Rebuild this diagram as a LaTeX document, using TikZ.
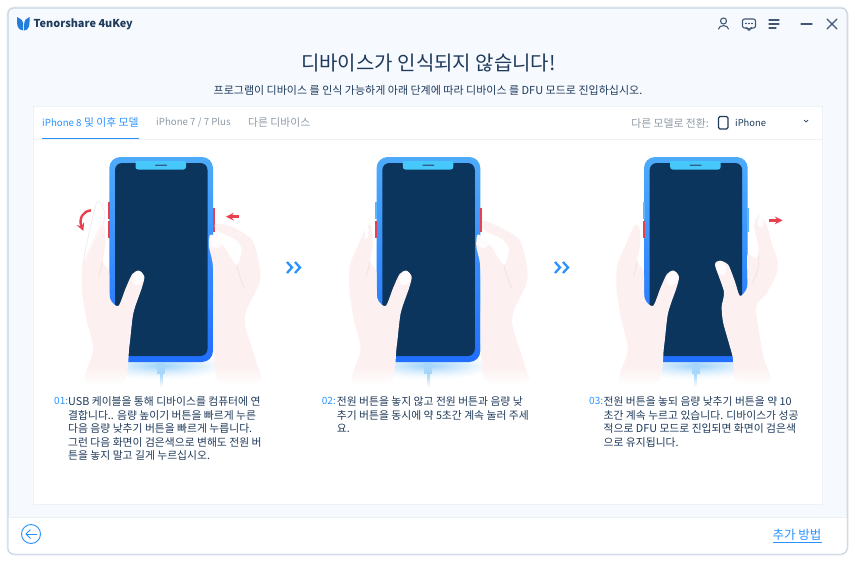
\documentclass[tikz,border=0pt]{standalone}
\usepackage{fontspec}
\setmainfont{Noto Sans CJK KR}
\usetikzlibrary{fadings}
\definecolor{winbg}{HTML}{F6FAFF}
\definecolor{winedge}{HTML}{C6D3DF}
\definecolor{inkdark}{HTML}{1F3A5A}
\definecolor{inkgrey}{HTML}{8E9AA6}
\definecolor{linkblue}{HTML}{2A93FF}
\definecolor{screendark}{HTML}{0B355C}
\definecolor{handpink}{HTML}{FDF0F0}
\definecolor{creasepink}{HTML}{F8E0E0}
\definecolor{pressred}{HTML}{E8404F}
\definecolor{sideblue}{HTML}{5DB6F8}
\newcommand{\latinsize}{\fontsize{9.7}{12}\selectfont}
\tikzset{
    titletext/.style={inner sep=0pt,text=inkdark,font=\fontsize{20}{24}\selectfont},
    subtext/.style={inner sep=0pt,text=inkdark,font=\fontsize{11}{13}\selectfont},
    tabtext/.style={inner sep=0pt,text=inkgrey,font=\fontsize{10.8}{13}\selectfont},
    stepno/.style={inner sep=0pt,anchor=base west,text=linkblue,font=\fontsize{10}{13.5}\selectfont},
    stepnote/.style={inner sep=0pt,anchor=base west,text=inkdark,align=left,font=\fontsize{10.8}{13.5}\selectfont},
    iconline/.style={draw=inkdark!85!white,line width=1.1pt,line cap=round},
    pressarrow/.style={draw=pressred,line width=2.4pt,->,>=stealth},
    hand/.style={fill=handpink},
    crease/.style={draw=creasepink,line width=0.8pt},
    nail/.style={fill=white,opacity=0.85},
    hopmark/.style={draw=linkblue,line width=2.3pt},
}
% one hand, written in the 3x crop units of the first phone
\newcommand{\lefthand}{
    \fill[hand] plot[smooth cycle,tension=0.45] coordinates {(75,695) (100,600) (80,510) (66,420) (68,345) (95,280) (120,225) (134,232) (136,285) (128,335) (147,365) (150,445) (175,468) (197,415) (217,372) (237,362) (253,380) (245,415) (220,490) (208,590) (190,695)};
    \fill[nail] (233,385) ellipse [x radius=16,y radius=22,rotate=-20];
    \draw[crease] (128,335) .. controls (124,350) and (122,365) .. (116,378);
}
\begin{document}
\begin{tikzpicture}[x=1pt,y=-1pt]
    \useasboundingbox (0,0) rectangle (855,562);
    \fill[white] (0,0) rectangle (855,562);
    % window
    \draw[winedge!45!white,line width=3pt,rounded corners=7pt] (8,8) rectangle (847,554);
    \draw[winedge,line width=1pt,fill=winbg,rounded corners=6pt] (8,8) rectangle (847,554);
    \fill[white] (8.5,517) [rounded corners=6pt] -- (8.5,553.5) -- (846.5,553.5) [sharp corners] -- (846.5,517) -- cycle;
    \draw[color=winedge!35!white,line width=1pt] (8.5,517) -- (846.5,517);
    \draw[fill=white,draw=winedge!30!white,line width=0.8pt] (33,106) rectangle (822,504);
    \draw[color=winedge!30!white,line width=0.8pt] (33,139.5) -- (822,139.5);
    % header
    \fill[linkblue!85!black] (17,17) .. controls (20,18) and (23,20) .. (23.2,24) -- (23.2,30.5) .. controls (19,30) and (17,27) .. (17,22) -- cycle;
    \fill[linkblue!85!black] (29.5,17) .. controls (26.5,18) and (24.4,20) .. (24.2,24) -- (24.2,30.5) .. controls (28,30) and (29.5,27) .. (29.5,22) -- cycle;
    \node[inner sep=0pt,anchor=west,text=inkdark,font=\fontsize{10.9}{14}\selectfont\bfseries] (appname) at (33.5,24) {Tenorshare 4uKey};
    \draw[iconline] (723.5,21) circle [radius=3];
    \draw[iconline] (718.5,29) .. controls (719,24.5) and (728,24.5) .. (728.5,29);
    \draw[iconline,rounded corners=2pt] (742.5,19) -- (755.5,19) -- (755.5,28) -- (750.5,28) -- (749,30) -- (747.5,28) -- (742.5,28) -- cycle;
    \foreach \dotx in {746,749,752}
        \fill[inkdark] (\dotx,23.5) circle [radius=0.8];
    \draw[iconline] (769,20) -- (779,20);
    \draw[iconline] (769,24) -- (779,24);
    \draw[iconline] (769,28) -- (776,28);
    \draw[iconline] (801,24) -- (812,24);
    \draw[iconline] (827,19) -- (837,29);
    \draw[iconline] (837,19) -- (827,29);
    \node[titletext] (headline) at (428.5,63.5) {디바이스가 인식되지 않습니다!};
    \node[subtext] (subline) at (428,90.5) {프로그램이 디바이스 를 인식 가능하게 아래 단계에 따라 디바이스 를 DFU 모드로 진입하십시오.};
    % tabs
    \node[tabtext,anchor=west,text=linkblue] (tabeight) at (42,122.5) {{\latinsize iPhone 8} 및 이후 모델};
    \node[tabtext,anchor=west] (tabseven) at (156,122.5) {\latinsize iPhone 7 / 7 Plus};
    \node[tabtext,anchor=west] (tabother) at (248,122) {다른 디바이스};
    \draw[linkblue,line width=1.3pt] (42,138.5) -- (139,138.5);
    \node[tabtext,anchor=east] (switchlabel) at (709,123) {다른 모델로 전환:};
    \draw[inkdark,line width=1.1pt,rounded corners=1.5pt] (718.5,116.5) rectangle (728,129);
    \node[tabtext,anchor=west,text=inkdark] (switchvalue) at (735,123) {\fontsize{9.4}{11}\selectfont iPhone};
    \draw[inkdark,line width=0.7pt] (804,120) -- (806,122) -- (808,120);
    % phones
    \foreach \shiftx in {0,267.3,534.7} {
    \begin{scope}[xshift=\shiftx pt]
        \shade[inner color=sideblue!60!white,outer color=white] (161,366) ellipse [x radius=62,y radius=14];
        \shade[top color=sideblue!70!linkblue,middle color=linkblue,bottom color=linkblue!75!blue,rounded corners=11pt] (109.3,157) rectangle (213,362);
        \fill[screendark,rounded corners=7pt] (115,163) rectangle (207.5,356);
        \fill[sideblue!75!cyan,rounded corners=2pt] (135.5,161) -- (186,161) -- (186,163) [rounded corners=2.5pt] -- (186,169.5) -- (135.5,169.5) [sharp corners] -- cycle;
        \fill[inkdark!70!sideblue,rounded corners=0.5pt] (155,164.5) rectangle (167,165.8);
    \end{scope}
    }
    % side buttons
    \fill[pressred] (107.5,201.5) rectangle (109.5,219);
    \fill[pressred] (107.5,220.5) rectangle (109.5,237.5);
    \fill[pressred] (213,208) rectangle (215,232);
    \fill[sideblue] (375,201.5) rectangle (377,218.5);
    \fill[pressred] (374.5,220.5) rectangle (377,237.5);
    \fill[pressred] (480,208) rectangle (482,232);
    \fill[sideblue] (642.5,201.5) rectangle (644.5,218.5);
    \fill[pressred] (642.5,220.5) rectangle (644.5,237.5);
    \fill[sideblue] (747,208) rectangle (749,232);
    % first panel
    \begin{scope}[shift={(60,150)},x=0.3333pt,y=-0.3333pt]
        \lefthand
        \fill[white,opacity=0.45] plot[smooth cycle,tension=0.5] coordinates {(68,345) (85,260) (112,155) (135,190) (128,225) (100,280)};
        \draw[color=inkgrey!25!white,line width=0.5pt] plot[smooth,tension=0.5] coordinates {(68,345) (85,260) (112,155) (135,190) (128,225)};
        \fill[hand] plot[smooth cycle,tension=0.45] coordinates {(467,222) (510,228) (575,268) (598,345) (598,400) (560,480) (556,530) (590,640) (600,695) (480,695) (462,620) (460,500) (462,420) (458,340) (447,290) (450,255) (470,262) (495,295) (530,345) (545,298) (525,268) (470,240)};
        \fill[nail] (468,275) ellipse [x radius=19,y radius=19];
        \draw[crease] (530,345) .. controls (535,370) and (545,395) .. (553,415);
        \draw[pressarrow] (93,181) .. controls (70,183) and (55,205) .. (70,243);
        \draw[pressarrow] (537,200) -- (498,200);
    \end{scope}
    % second panel
    \begin{scope}[shift={(330,150)},x=0.3333pt,y=-0.3333pt]
        \begin{scope}[xshift=-2.67pt]
            \lefthand
        \end{scope}
        \fill[white] plot[smooth cycle,tension=0.5] coordinates {(104,264) (106,235) (112,222) (116,240) (114,262)};
        \fill[hand] plot[smooth cycle,tension=0.45] coordinates {(459,212) (502,228) (567,268) (590,345) (590,400) (552,480) (548,530) (582,640) (592,695) (472,695) (454,620) (452,500) (454,420) (450,340) (439,290) (442,255) (462,262) (487,295) (522,345) (537,298) (517,268) (462,240)};
        \fill[nail] (460,275) ellipse [x radius=19,y radius=19];
        \draw[crease] (522,345) .. controls (527,370) and (537,395) .. (545,415);
    \end{scope}
    % third panel
    \begin{scope}[shift={(600,150)},x=0.3333pt,y=-0.3333pt]
        \begin{scope}[xshift=-5.33pt]
            \lefthand
        \end{scope}
        \fill[hand] plot[smooth cycle,tension=0.4] coordinates {(345,345) (360,332) (385,345) (405,395) (420,438) (442,410) (442,315) (468,325) (476,295) (462,225) (478,195) (500,225) (515,280) (532,330) (530,370) (500,430) (468,475) (490,620) (512,695) (410,695) (398,620) (370,520) (365,470) (372,425)};
        \fill[nail] (364,354) ellipse [x radius=15,y radius=21,rotate=15];
        \fill[nail] (482,215) ellipse [x radius=9,y radius=18];
        \draw[crease] (476,320) .. controls (478,350) and (470,380) .. (455,400);
        \draw[pressarrow] (508,211) -- (548,211);
    \end{scope}
    % hands fade out at the wrists, cables go on top
    \fill[white,path fading=north] (60,366) rectangle (780,385);
    \foreach \shiftx in {0,267.3,534.7} {
    \begin{scope}[xshift=\shiftx pt]
        \fill[sideblue!55!white] (157,363) rectangle (165,374);
        \fill[sideblue!55!white,path fading=south] (159.5,374) rectangle (162.5,387);
    \end{scope}
    }
    % hops between panels
    \draw[hopmark] (287,262) -- (292,267.5) -- (287,273);
    \draw[hopmark] (295,262) -- (300,267.5) -- (295,273);
    \draw[hopmark] (555,262) -- (560,267.5) -- (555,273);
    \draw[hopmark] (563,262) -- (568,267.5) -- (563,273);
    % notes
    \node[stepno] (noone) at (54,404.5) {01:};
    \node[stepnote,anchor=north west] (noteone) at (68,396.5) {USB 케이블을 통해 디바이스를 컴퓨터에 연\\결합니다.. 음량 높이기 버튼을 빠르게 누른\\다음 음량 낮추기 버튼을 빠르게 누릅니다.\\그런 다음 화면이 검은색으로 변해도 전원 버\\튼을 놓지 말고 길게 누르십시오.};
    \node[stepno] (notwo) at (321.7,404.5) {02:};
    \node[stepnote,anchor=north west] (notetwo) at (336.7,396.5) {전원 버튼을 놓지 않고 전원 버튼과 음량 낮\\추기 버튼을 동시에 약 5초간 계속 눌러 주세\\요.};
    \node[stepno] (nothree) at (589,404.5) {03:};
    \node[stepnote,anchor=north west] (notethree) at (603.5,396.5) {전원 버튼을 놓되 음량 낮추기 버튼을 약 10\\초간 계속 누르고 있습니다. 디바이스가 성공\\적으로 DFU 모드로 진입되면 화면이 검은색\\으로 유지됩니다.};
    % footer
    \node[draw=linkblue,circle,line width=0.9pt,minimum size=19pt,inner sep=0pt] (backbutton) at (31,534) {};
    \draw[linkblue,line width=0.9pt] (37,534) -- (26,534);
    \draw[linkblue,line width=0.9pt] (30.5,529.5) -- (26,534) -- (30.5,538.5);
    \node[inner sep=0pt,anchor=east,text=linkblue,font=\fontsize{12.5}{15}\selectfont] (morelink) at (821.5,534.5) {추가 방법};
    \draw[linkblue,line width=0.6pt] (772.5,542) -- (821.5,542);
\end{tikzpicture}
\end{document}
